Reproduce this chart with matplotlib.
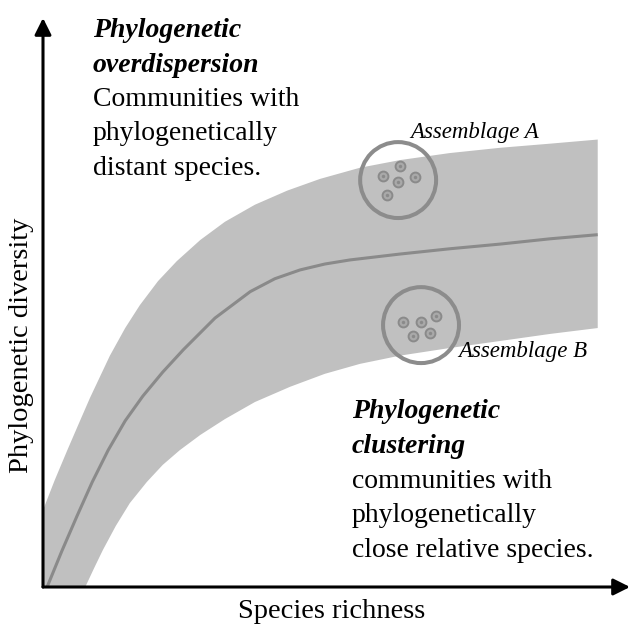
import numpy as np
import matplotlib
matplotlib.use("Agg")
import matplotlib.pyplot as plt

# conceptual curve: species richness vs phylogenetic diversity (arbitrary units)
upper_x = [0, 2.0, 4.1, 6.0, 8.0, 11.4, 14.0, 16.5, 19.6, 22.8, 26.8, 31.0,
           36.1, 41.6, 47.2, 54.0, 60.8, 69.3, 77.9, 86.4, 94.5]
upper_y = [13.1, 18.2, 23.2, 27.6, 32.2, 39.4, 44.1, 48.0, 52.1, 55.5, 59.1,
           62.2, 65.1, 67.5, 69.5, 71.4, 72.7, 73.9, 74.8, 75.5, 76.2]

mid_x = [0.7, 3.2, 5.8, 8.4, 11.1, 14.0, 17.0, 20.4, 23.9, 29.3, 35.3, 39.5,
         43.8, 48.0, 52.3, 60.8, 69.3, 77.9, 86.4, 94.5]
mid_y = [0, 6.1, 12.1, 17.9, 23.3, 28.3, 32.5, 36.6, 40.4, 45.8, 50.3, 52.5,
         54.0, 55.0, 55.7, 56.7, 57.6, 58.4, 59.3, 60.0]

lower_x = [0, 7.2, 8.7, 10.2, 12.4, 14.8, 17.7, 20.4, 23.3, 26.8, 31.0, 36.1,
           42.1, 48.0, 54.0, 60.8, 69.3, 77.9, 86.4, 94.5]
lower_y = [0, 0, 3.2, 6.3, 10.4, 14.3, 17.9, 20.8, 23.3, 25.9, 28.6, 31.5,
           34.1, 36.3, 38.0, 39.4, 40.7, 41.9, 43.1, 44.1]

# assemblages (circle centre + species inside)
assemblage_a = (60.5, 69.3)
assemblage_b = (64.4, 44.6)
species_a_x = [60.8, 57.9, 60.5, 63.4, 58.6]
species_a_y = [71.7, 70.0, 69.0, 69.8, 66.8]
species_b_x = [61.3, 64.4, 67.0, 63.0, 65.9]
species_b_y = [45.1, 45.1, 46.2, 42.8, 43.3]

W, H = 638, 633
fig = plt.figure(figsize=(W / 100, H / 100), dpi=100)
ax = fig.add_axes([43 / W, (H - 587) / H, (630 - 43) / W, (587 - 18) / H])
ax.set_xlim(0, 100)
ax.set_ylim(0, 96.9)
ax.axis("off")

band_x = np.concatenate([upper_x, lower_x[::-1]])
band_y = np.concatenate([upper_y, lower_y[::-1]])
ax.fill(band_x, band_y, color="#c0c0c0", lw=0, zorder=1)
ax.plot(mid_x, mid_y, color="#8a8a8a", lw=2.2, zorder=2, solid_capstyle="butt")

for cx, cy in [assemblage_a, assemblage_b]:
    ax.scatter([cx], [cy], s=2990, facecolors="none", edgecolors="#8c8c8c",
               linewidths=2.9, zorder=3)
for sx, sy in [(species_a_x, species_a_y), (species_b_x, species_b_y)]:
    ax.scatter(sx, sy, s=50, color="#a9a9a9", edgecolors="#8a8a8a",
               linewidths=1.4, zorder=4)
    ax.scatter(sx, sy, s=6, color="#8a8a8a", lw=0, zorder=5)

# axes arrows
arrow = dict(arrowstyle="-|>,head_length=0.5,head_width=0.25", color="black",
             lw=2.2, mutation_scale=20, shrinkA=0, shrinkB=0)
ax.annotate("", xy=(1, 0), xytext=(0, 0), xycoords="axes fraction",
            arrowprops=arrow, annotation_clip=False)
ax.annotate("", xy=(0, 1), xytext=(0, 0), xycoords="axes fraction",
            arrowprops=arrow, annotation_clip=False)


def put(px, py, s, **kw):
    fig.text(px / W, 1 - py / H, s, family="Liberation Serif", **kw)


put(238, 618, "Species richness", fontsize=20.5, va="baseline")
put(22, 345, "Phylogenetic diversity", fontsize=20.5, rotation=90,
    ha="center", va="center")

top_lines = [("Phylogenetic", True), ("overdispersion", True),
             ("Communities with", False), ("phylogenetically", False),
             ("distant species.", False)]
for i, (s, bold) in enumerate(top_lines):
    put(93, 37 + 34.5 * i, s, fontsize=20, va="baseline",
        style="italic" if bold else "normal",
        weight="bold" if bold else "normal")

bottom_lines = [("Phylogenetic", True), ("clustering", True),
                ("communities with", False), ("phylogenetically", False),
                ("close relative species.", False)]
for i, (s, bold) in enumerate(bottom_lines):
    put(352, 418 + 34.8 * i, s, fontsize=20, va="baseline",
        style="italic" if bold else "normal",
        weight="bold" if bold else "normal")

put(410, 138, "Assemblage A", fontsize=16.5, style="italic", va="baseline")
put(458, 357, "Assemblage B", fontsize=16.5, style="italic", va="baseline")

fig.savefig("out.png", dpi=100, facecolor="white")
